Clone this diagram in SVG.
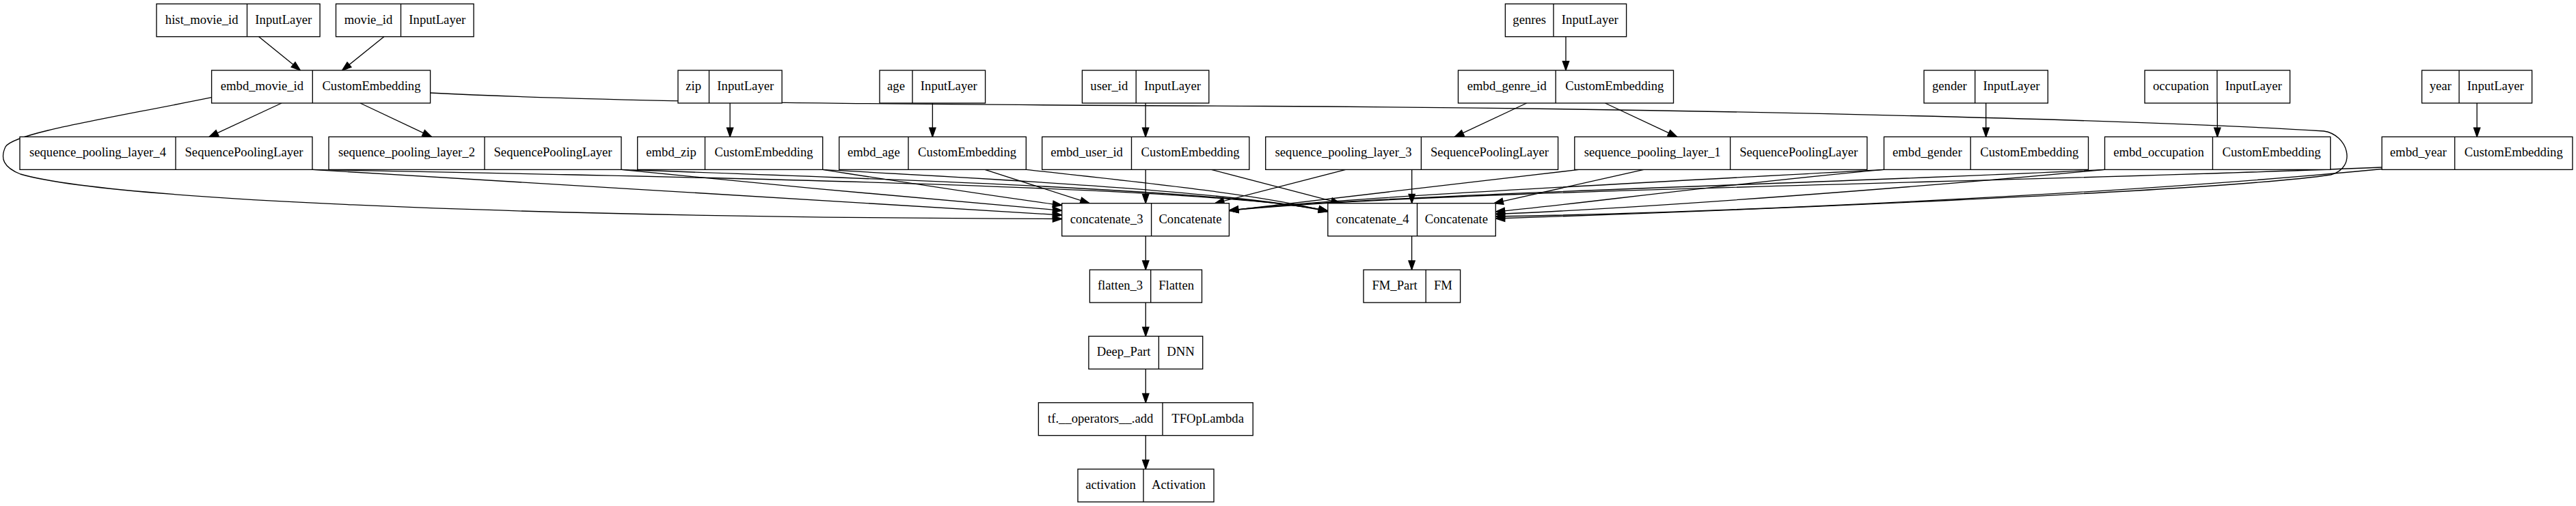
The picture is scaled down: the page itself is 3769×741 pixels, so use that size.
<svg xmlns="http://www.w3.org/2000/svg" width="3769" height="741" viewBox="0 0 3769 741">
<style>
.n rect{fill:#fff;stroke:#000;stroke-width:1.33}
.n line{stroke:#000;stroke-width:1.33}
text{font-family:"Liberation Serif","Times New Roman",serif;font-size:18.67px;text-anchor:middle;fill:#000}
#edges path{fill:none;stroke:#000;stroke-width:1.33;marker-end:url(#ah)}
</style>
<defs>
<marker id="ah" markerUnits="userSpaceOnUse" viewBox="0 0 14 10" markerWidth="14" markerHeight="10" refX="13.3" refY="4.67" orient="auto" overflow="visible">
<path d="M0,0 L13.3,4.67 L0,9.33 z" fill="#000" stroke="#000" stroke-width="1.33"/>
</marker>
</defs>
<rect x="0" y="0" width="3769" height="741" fill="#fff"/>
<g id="edges">
<path d="M378.7,53.7 L439.4,103"/>
<path d="M561.8,53.7 L500.6,103"/>
<path d="M2291,53.7 L2291,103"/>
<path d="M1068.1,151 L1068.1,200.4"/>
<path d="M1364.4,151 L1364.4,200.4"/>
<path d="M1676.1,151 L1676.1,200.4"/>
<path d="M2905.7,151 L2905.7,200.4"/>
<path d="M3244.3,151 L3244.3,200.4"/>
<path d="M3624.1,151 L3624.1,200.4"/>
<path d="M412,151 L306,200.4"/>
<path d="M527,151 L631.5,200.4"/>
<path d="M2233.7,151 L2128.4,200.4"/>
<path d="M2348.5,151 L2453.7,200.4"/>
<path d="M309.6,142.7 C150,175 20,195 8,215 C0,232 5,245 30,255 C150,290 700,318 1553.7,320.5"/>
<path d="M629.6,136 C900,150 1300,153 1850,155.5 C2500,159 3150,176 3400,192 C3435,197 3450,245 3410,256 C3250,280 2500,310 2188.3,320"/>
<path d="M457,248.4 C800,268 1250,298 1553.7,315"/>
<path d="M909,248.4 C1100,268 1400,296 1553.7,308.3"/>
<path d="M1203.7,248.4 C1330,268 1470,290 1553.7,300.5"/>
<path d="M1441,248.4 L1594,297.7"/>
<path d="M1676.2,248.4 L1676.2,297.7"/>
<path d="M1968.9,248.4 L1777.6,297.7"/>
<path d="M2310,248.4 L1798.4,308.3"/>
<path d="M2756.5,248.4 C2400,268 1950,290 1798.4,308.3"/>
<path d="M3079.5,248.4 C2700,268 2000,285 1798.4,308.3"/>
<path d="M3485,245 C3000,266 2100,278 1798.4,308.3"/>
<path d="M2756.5,248.4 C2500,272 2300,300 2188.3,310"/>
<path d="M3079.5,248.4 C2800,275 2400,305 2188.3,313.5"/>
<path d="M3485,247.5 C3100,285 2500,312 2188.3,317"/>
<path d="M457,248.4 C1100,260 1800,276 1942.8,309"/>
<path d="M909,248.4 C1300,262 1800,279 1942.8,309"/>
<path d="M1203.7,248.4 C1450,262 1800,280 1942.8,309.5"/>
<path d="M1501.3,248.4 C1650,265 1850,285 1942.8,310"/>
<path d="M1772.4,248.4 L1961,297.7"/>
<path d="M2065.7,248.4 L2065.7,297.7"/>
<path d="M2405,248.4 L2186,297.7"/>
<path d="M1676.3,345.7 L1676.3,395.1"/>
<path d="M2065.6,345.7 L2065.6,395.1"/>
<path d="M1676.3,443.1 L1676.3,492.4"/>
<path d="M1676.3,540.4 L1676.3,589.7"/>
<path d="M1676.3,637.7 L1676.3,687"/>
</g>
<g id="hist_movie_id" class="n"><rect x="229" y="5.7" width="239.1" height="48"/><line x1="361.5" y1="5.7" x2="361.5" y2="53.7"/><text x="295.25" y="34.7">hist_movie_id</text><text x="414.8" y="34.7">InputLayer</text></g>
<g id="movie_id" class="n"><rect x="491.5" y="5.7" width="201.6" height="48"/><line x1="586.5" y1="5.7" x2="586.5" y2="53.7"/><text x="539" y="34.7">movie_id</text><text x="639.8" y="34.7">InputLayer</text></g>
<g id="genres" class="n"><rect x="2202.4" y="5.7" width="177.2" height="48"/><line x1="2273" y1="5.7" x2="2273" y2="53.7"/><text x="2237.7" y="34.7">genres</text><text x="2326.3" y="34.7">InputLayer</text></g>
<g id="embd_movie_id" class="n"><rect x="309.6" y="103" width="320" height="48"/><line x1="457.3" y1="103" x2="457.3" y2="151"/><text x="383.45" y="132">embd_movie_id</text><text x="543.45" y="132">CustomEmbedding</text></g>
<g id="zip" class="n"><rect x="992" y="103" width="152.1" height="48"/><line x1="1037.5" y1="103" x2="1037.5" y2="151"/><text x="1014.75" y="132">zip</text><text x="1090.8" y="132">InputLayer</text></g>
<g id="age" class="n"><rect x="1287" y="103" width="154.6" height="48"/><line x1="1335" y1="103" x2="1335" y2="151"/><text x="1311" y="132">age</text><text x="1388.3" y="132">InputLayer</text></g>
<g id="user_id" class="n"><rect x="1583.4" y="103" width="185.4" height="48"/><line x1="1662.2" y1="103" x2="1662.2" y2="151"/><text x="1622.8" y="132">user_id</text><text x="1715.5" y="132">InputLayer</text></g>
<g id="embd_genre_id" class="n"><rect x="2133.5" y="103" width="315" height="48"/><line x1="2276.2" y1="103" x2="2276.2" y2="151"/><text x="2204.85" y="132">embd_genre_id</text><text x="2362.35" y="132">CustomEmbedding</text></g>
<g id="gender" class="n"><rect x="2815" y="103" width="181.3" height="48"/><line x1="2889.7" y1="103" x2="2889.7" y2="151"/><text x="2852.35" y="132">gender</text><text x="2943" y="132">InputLayer</text></g>
<g id="occupation" class="n"><rect x="3138" y="103" width="212.5" height="48"/><line x1="3243.9" y1="103" x2="3243.9" y2="151"/><text x="3190.95" y="132">occupation</text><text x="3297.2" y="132">InputLayer</text></g>
<g id="year" class="n"><rect x="3543.5" y="103" width="161.1" height="48"/><line x1="3598" y1="103" x2="3598" y2="151"/><text x="3570.75" y="132">year</text><text x="3651.3" y="132">InputLayer</text></g>
<g id="sequence_pooling_layer_4" class="n"><rect x="29" y="200.4" width="428" height="48"/><line x1="257" y1="200.4" x2="257" y2="248.4"/><text x="143" y="229.4">sequence_pooling_layer_4</text><text x="357" y="229.4">SequencePoolingLayer</text></g>
<g id="sequence_pooling_layer_2" class="n"><rect x="481" y="200.4" width="428" height="48"/><line x1="709" y1="200.4" x2="709" y2="248.4"/><text x="595" y="229.4">sequence_pooling_layer_2</text><text x="809" y="229.4">SequencePoolingLayer</text></g>
<g id="embd_zip" class="n"><rect x="932.7" y="200.4" width="271" height="48"/><line x1="1031.5" y1="200.4" x2="1031.5" y2="248.4"/><text x="982.1" y="229.4">embd_zip</text><text x="1117.6" y="229.4">CustomEmbedding</text></g>
<g id="embd_age" class="n"><rect x="1227.8" y="200.4" width="273.5" height="48"/><line x1="1329" y1="200.4" x2="1329" y2="248.4"/><text x="1278.4" y="229.4">embd_age</text><text x="1415.15" y="229.4">CustomEmbedding</text></g>
<g id="embd_user_id" class="n"><rect x="1524.7" y="200.4" width="303.1" height="48"/><line x1="1655.5" y1="200.4" x2="1655.5" y2="248.4"/><text x="1590.1" y="229.4">embd_user_id</text><text x="1741.65" y="229.4">CustomEmbedding</text></g>
<g id="sequence_pooling_layer_3" class="n"><rect x="1851.7" y="200.4" width="427.9" height="48"/><line x1="2079.4" y1="200.4" x2="2079.4" y2="248.4"/><text x="1965.55" y="229.4">sequence_pooling_layer_3</text><text x="2179.5" y="229.4">SequencePoolingLayer</text></g>
<g id="sequence_pooling_layer_1" class="n"><rect x="2303.8" y="200.4" width="428" height="48"/><line x1="2531.6" y1="200.4" x2="2531.6" y2="248.4"/><text x="2417.7" y="229.4">sequence_pooling_layer_1</text><text x="2631.7" y="229.4">SequencePoolingLayer</text></g>
<g id="embd_gender" class="n"><rect x="2756.5" y="200.4" width="299" height="48"/><line x1="2883.2" y1="200.4" x2="2883.2" y2="248.4"/><text x="2819.85" y="229.4">embd_gender</text><text x="2969.35" y="229.4">CustomEmbedding</text></g>
<g id="embd_occupation" class="n"><rect x="3079.5" y="200.4" width="330.2" height="48"/><line x1="3237.4" y1="200.4" x2="3237.4" y2="248.4"/><text x="3158.45" y="229.4">embd_occupation</text><text x="3323.55" y="229.4">CustomEmbedding</text></g>
<g id="embd_year" class="n"><rect x="3485" y="200.4" width="278.9" height="48"/><line x1="3591.6" y1="200.4" x2="3591.6" y2="248.4"/><text x="3538.3" y="229.4">embd_year</text><text x="3677.75" y="229.4">CustomEmbedding</text></g>
<g id="concatenate_3" class="n"><rect x="1553.7" y="297.7" width="244.7" height="48"/><line x1="1684.6" y1="297.7" x2="1684.6" y2="345.7"/><text x="1619.15" y="326.7">concatenate_3</text><text x="1741.5" y="326.7">Concatenate</text></g>
<g id="concatenate_4" class="n"><rect x="1942.8" y="297.7" width="245.5" height="48"/><line x1="2073.5" y1="297.7" x2="2073.5" y2="345.7"/><text x="2008.15" y="326.7">concatenate_4</text><text x="2130.9" y="326.7">Concatenate</text></g>
<g id="flatten_3" class="n"><rect x="1594.4" y="395.1" width="164.1" height="48"/><line x1="1683.7" y1="395.1" x2="1683.7" y2="443.1"/><text x="1639.05" y="424.1">flatten_3</text><text x="1721.1" y="424.1">Flatten</text></g>
<g id="FM_Part" class="n"><rect x="1995" y="395.1" width="141.6" height="48"/><line x1="2086.2" y1="395.1" x2="2086.2" y2="443.1"/><text x="2040.6" y="424.1">FM_Part</text><text x="2111.4" y="424.1">FM</text></g>
<g id="Deep_Part" class="n"><rect x="1592.9" y="492.4" width="166.8" height="48"/><line x1="1695.4" y1="492.4" x2="1695.4" y2="540.4"/><text x="1644.15" y="521.4">Deep_Part</text><text x="1727.55" y="521.4">DNN</text></g>
<g id="tf_operators_add" class="n"><rect x="1519.4" y="589.7" width="313.8" height="48"/><line x1="1701" y1="589.7" x2="1701" y2="637.7"/><text x="1610.2" y="618.7">tf.__operators__.add</text><text x="1767.1" y="618.7">TFOpLambda</text></g>
<g id="activation" class="n"><rect x="1577" y="687" width="199" height="48"/><line x1="1673" y1="687" x2="1673" y2="735"/><text x="1625" y="716">activation</text><text x="1724.5" y="716">Activation</text></g>
</svg>
